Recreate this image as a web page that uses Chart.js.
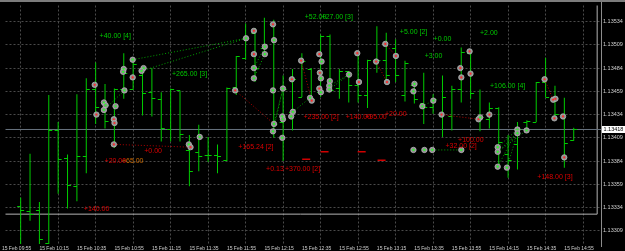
<!DOCTYPE html>
<html><head><meta charset="utf-8">
<script src="https://cdn.jsdelivr.net/npm/chart.js@4"></script>
<style>html,body{margin:0;padding:0;background:#000;overflow:hidden}canvas{display:block}</style>
</head><body>
<canvas id="c" width="625" height="251"></canvas>
<script>
// ---- time axis (5-minute bars, bar 0 = 15 Feb 10:05) ----
const xTickBars = [-2,2,6,10,14,18,22,26,30,34,38,42,46,50,54,58];
const xTickLabels = ['15 Feb 09:55','15 Feb 10:15','15 Feb 10:35','15 Feb 10:55','15 Feb 11:15','15 Feb 11:35','15 Feb 11:55','15 Feb 12:15','15 Feb 12:35','15 Feb 12:55','15 Feb 13:15','15 Feb 13:35','15 Feb 13:55','15 Feb 14:15','15 Feb 14:35','15 Feb 14:55'];
const yTickValues = [1.13309,1.13334,1.13359,1.13384,1.13409,1.13434,1.13459,1.13484,1.13509,1.13534];

// ---- OHLC bars ----
const openP  = [1.13336,1.13330,1.13332,1.13296,1.13417,1.13387,1.13357,1.13389,1.13461,1.13447,1.13428,1.13461,1.13462,1.13477,1.13458,1.13451,1.13419,1.13460,1.13396,1.13394,1.13391,1.13391,1.13385,1.13464,1.13495,1.13522,1.13506,1.13530,1.13426,1.13437,1.13453,1.13483,1.13458,1.13519,1.13463,1.13481,1.13466,1.13455,1.13493,1.13493,1.13506,1.13455,1.13466,1.13447,1.13442,1.13434,1.13433,1.13462,1.13500,1.13429,1.13429,1.13441,1.13392,1.13402,1.13426,1.13426,1.13469,1.13452,1.13435,1.13407];
const highP  = [1.13345,1.13392,1.13340,1.13455,1.13426,1.13391,1.13456,1.13473,1.13490,1.13467,1.13462,1.13500,1.13495,1.13484,1.13484,1.13458,1.13462,1.13460,1.13412,1.13423,1.13410,1.13402,1.13463,1.13497,1.13532,1.13527,1.13538,1.13536,1.13476,1.13483,1.13500,1.13484,1.13520,1.13520,1.13483,1.13481,1.13500,1.13493,1.13529,1.13522,1.13515,1.13492,1.13469,1.13479,1.13456,1.13476,1.13465,1.13506,1.13504,1.13461,1.13447,1.13442,1.13412,1.13426,1.13428,1.13469,1.13495,1.13465,1.13452,1.13420];
const lowP   = [1.13289,1.13320,1.13294,1.13295,1.13349,1.13333,1.13341,1.13371,1.13424,1.13419,1.13398,1.13451,1.13461,1.13433,1.13432,1.13405,1.13405,1.13405,1.13357,1.13373,1.13383,1.13371,1.13384,1.13455,1.13493,1.13469,1.13497,1.13409,1.13384,1.13417,1.13453,1.13447,1.13453,1.13458,1.13451,1.13447,1.13447,1.13441,1.13479,1.13469,1.13469,1.13448,1.13446,1.13424,1.13435,1.13410,1.13417,1.13447,1.13451,1.13416,1.13419,1.13377,1.13366,1.13375,1.13416,1.13426,1.13453,1.13432,1.13377,1.13406];
const closeP = [1.13331,1.13327,1.13300,1.13417,1.13386,1.13358,1.13389,1.13461,1.13442,1.13427,1.13461,1.13479,1.13488,1.13457,1.13452,1.13420,1.13461,1.13413,1.13373,1.13390,1.13391,1.13389,1.13463,1.13497,1.13516,1.13484,1.13500,1.13424,1.13462,1.13472,1.13492,1.13451,1.13519,1.13460,1.13481,1.13466,1.13455,1.13493,1.13493,1.13477,1.13477,1.13490,1.13451,1.13442,1.13451,1.13453,1.13462,1.13501,1.13457,1.13431,1.13441,1.13405,1.13385,1.13418,1.13427,1.13469,1.13453,1.13435,1.13404,1.13418];

const bidPrice = 1.13418;
const boxPrice = 1.13327;
const boxEndBar = 61.5;

// ---- trade markers ----
const markerBar = [7.90,8.08,8.88,9.06,8.88,10.12,9.94,10.01,9.94,10.99,10.93,11.07,11.95,11.95,13.11,12.90,17.94,18.12,19.10,22.88,24.04,24.88,24.88,24.88,24.88,26.05,26.05,26.92,27.03,26.92,27.03,26.92,27.91,27.98,27.91,27.98,28.93,29.04,28.86,29.92,30.87,31.05,31.86,32.10,31.92,32.03,31.86,32.03,32.98,32.92,32.92,35.03,35.91,36.09,37.92,38.90,39.08,40.03,42.01,41.90,42.85,44.02,44.90,46.90,47.01,47.89,47.99,49.02,48.84,50.00,41.90,43.07,43.91,47.01,50.89,50.89,50.89,51.87,52.99,52.99,53.97,55.89,56.81,57.05,56.94,57.86,57.99];
const markerPrice = [1.13466,1.13434,1.13447,1.13444,1.13439,1.13443,1.13429,1.13425,1.13402,1.13483,1.13480,1.13460,1.13493,1.13474,1.13484,1.13481,1.13402,1.13399,1.13410,1.13460,1.13516,1.13524,1.13499,1.13484,1.13473,1.13507,1.13499,1.13531,1.13514,1.13460,1.13424,1.13416,1.13409,1.13462,1.13432,1.13429,1.13472,1.13437,1.13432,1.13492,1.13452,1.13449,1.13499,1.13491,1.13479,1.13473,1.13462,1.13458,1.13470,1.13465,1.13461,1.13477,1.13500,1.13469,1.13491,1.13510,1.13469,1.13497,1.13467,1.13459,1.13443,1.13449,1.13434,1.13484,1.13474,1.13502,1.13478,1.13431,1.13429,1.13434,1.13396,1.13396,1.13396,1.13396,1.13399,1.13394,1.13378,1.13377,1.13418,1.13414,1.13417,1.13472,1.13450,1.13451,1.13430,1.13432,1.13388];
const markerSide = ['r','r','g','g','g','g','r','r','r','g','g','g','g','r','g','g','g','r','g','r','g','r','r','g','g','g','g','r','g','g','g','g','g','g','g','g','r','g','g','r','g','r','r','g','r','g','r','g','g','g','g','g','r','r','r','r','r','r','g','g','g','g','r','r','r','r','r','g','r','r','g','g','g','g','g','g','g','g','g','g','g','r','r','r','r','r','r'];
// links between markers (1-based marker numbers)
const greenLinks = [[13,21],[16,21],[5,12],[25,27],[24,26],[32,34],[31,34],[50,52],[51,52],[73,74],[75,79],[76,80],[77,79],[78,80],[76,81],[61,62],[38,41]];
const redLinks = [[9,18],[20,31],[40,42],[55,57],[56,58],[63,69],[82,83]];

// stop markers
const dashBar = [30.46,32.42,36.38,38.50];
const dashPrice = [1.13386,1.13394,1.13394,1.13385];

// profit labels
const labelText = ['+40.00 [4]','+265.00 [3]','+52.00','+27.00 [3]','+5.00 [2]','+0.00','+3.00','+2.00','+106.00 [4]','+140.00','+65.00','+20.00','+0.00','+165.24 [2]','+0.13','+370.00 [2]','+235.00 [2]','+140.00','+95.00','+20.00','+100.00','+32.00 [2]','+148.00 [3]'];
const labelBar = [8.42,16.14,30.3,32.1,40.45,44.05,43.1,49.0,50.07,6.74,10.8,8.95,13.18,23.22,26.18,28.19,30.17,34.67,36.75,38.87,46.66,45.32,55.12];
const labelPrice = [1.13518,1.13478,1.13539,1.13539,1.13523,1.13515,1.13497,1.13522,1.13465,1.13333,1.13384,1.13384,1.13395,1.13399,1.13375,1.13375,1.13431,1.13431,1.13431,1.13435,1.13407,1.13400,1.13367];
const labelColor = ['g','g','g','g','g','g','g','g','g','r','o','r','r','r','r','r','r','r','r','r','r','r','r'];

const COL = {g:'#00c800', r:'#dc0000', o:'#cc6a00'};
const BAR = '#00cc00';
const FONT = '"Liberation Sans", Arial, sans-serif';

function linkData(links){
  const d = [];
  links.forEach(([a,b])=>{
    d.push({x:markerBar[a-1], y:markerPrice[a-1]});
    d.push({x:markerBar[b-1], y:markerPrice[b-1]});
    d.push({x:markerBar[b-1], y:null});
  });
  return d;
}

const bg = {
  id:'bg',
  beforeDraw(chart){
    const c = chart.ctx;
    c.save(); c.fillStyle = '#000'; c.fillRect(0,0,chart.width,chart.height);
    c.fillStyle = '#7c7c7c'; c.fillRect(0,0,chart.width,2); c.restore();
  },
  afterDraw(chart){
    const c = chart.ctx, a = chart.chartArea, ys = chart.scales.y;
    c.save();
    c.strokeStyle = '#8c8c8c'; c.lineWidth = 1;
    c.beginPath(); c.moveTo(Math.round(a.right)+0.5, 2); c.lineTo(Math.round(a.right)+0.5, 247); c.stroke();
    const y = ys.getPixelForValue(bidPrice);
    c.fillStyle = '#ffffff'; c.fillRect(a.right+1, y-3.5, chart.width-a.right-1, 7);
    c.fillStyle = '#000'; c.font = '5.5px ' + FONT; c.textBaseline = 'middle'; c.textAlign = 'left';
    c.fillText(bidPrice.toFixed(5), a.right+2.5, y+0.3);
    c.restore();
  }
};

const ohlcTicks = {
  id:'ohlcTicks',
  afterDatasetDraw(chart, args){
    if (args.index !== 0) return;
    const xs = chart.scales.x, ys = chart.scales.y, c = chart.ctx, a = chart.chartArea;
    c.save();
    c.beginPath(); c.rect(a.left, a.top, a.right-a.left, a.bottom-a.top); c.clip();
    c.strokeStyle = BAR; c.lineWidth = 1;
    for (let i = 0; i < openP.length; i++){
      const x = xs.getPixelForValue(i);
      const yo = Math.round(ys.getPixelForValue(openP[i])) + 0.5;
      const yc = Math.round(ys.getPixelForValue(closeP[i])) + 0.5;
      c.beginPath();
      c.moveTo(x-3.5, yo); c.lineTo(x, yo);
      c.moveTo(x, yc); c.lineTo(x+3.5, yc);
      c.stroke();
    }
    c.restore();
  }
};

const tradeLabels = {
  id:'tradeLabels',
  afterDatasetsDraw(chart){
    const xs = chart.scales.x, ys = chart.scales.y, c = chart.ctx;
    c.save();
    c.font = '7px ' + FONT; c.textBaseline = 'middle'; c.textAlign = 'left';
    labelText.forEach((t,i)=>{
      c.fillStyle = COL[labelColor[i]];
      c.fillText(t, xs.getPixelForValue(labelBar[i]), ys.getPixelForValue(labelPrice[i]));
    });
    c.restore();
  }
};

new Chart(document.getElementById('c'), {
  type: 'bar',
  data: {
    datasets: [
      { type:'bar', data: openP.map((_,i)=>({x:i, y:[lowP[i], highP[i]]})), backgroundColor: BAR, borderWidth:0, barThickness:1, inflateAmount:0, order:5 },
      { type:'line', data: [{x:-3,y:bidPrice},{x:70,y:bidPrice}], borderColor:'#67727e', borderWidth:1, pointRadius:0, order:7 },
      { type:'line', data: [{x:-3,y:boxPrice},{x:boxEndBar,y:boxPrice},{x:boxEndBar,y:1.1360}], borderColor:'#b4b4b4', borderWidth:1, pointRadius:0, order:7 },
      { type:'line', data: linkData(greenLinks), borderColor:'#00a000', borderWidth:1, borderDash:[1,2], pointRadius:0, spanGaps:false, order:4 },
      { type:'line', data: linkData(redLinks), borderColor:'#b00000', borderWidth:1, borderDash:[1,2], pointRadius:0, spanGaps:false, order:4 },
      { type:'line', data: dashBar.map((x,i)=>({x, y:dashPrice[i]})), showLine:false, pointStyle:'line', pointRadius:4, pointBorderColor:'#d00000', pointBorderWidth:1.5, order:4 },
      { type:'line', data: markerBar.map((x,i)=>({x, y:markerPrice[i]})), showLine:false, pointStyle:'circle', pointRadius:2.7, pointBackgroundColor:'#8e8e8e', pointBorderColor:'#b8b8b8', pointBorderWidth:0.8, order:2 },
      { type:'line', data: markerBar.map((x,i)=>({x, y:markerPrice[i]})), showLine:false, pointStyle:'circle', pointRadius:1.1, pointBackgroundColor: markerSide.map(s=> s==='r' ? '#ff2a2a' : '#2aff2a'), pointBorderWidth:0, order:1 }
    ]
  },
  options: {
    responsive:false, animation:false, devicePixelRatio:1,
    layout:{ padding:{ top:2, left:0, right:0, bottom:0 } },
    plugins:{ legend:{display:false}, tooltip:{enabled:false} },
    scales: {
      x: {
        type:'linear', min:-1.617, max:61.91, offset:false,
        grid:{ color:'#4a4a4a', offset:true, drawTicks:false },
        border:{ display:false, dash:[2,2] },
        ticks:{ color:'#cfcfcf', font:{ size:5, family:FONT }, align:'start', padding:2, autoSkip:false, maxRotation:0, minRotation:0,
                callback:(v,i)=> xTickLabels[i] },
        afterBuildTicks:(s)=>{ s.ticks = xTickBars.map(v=>({value:v})); },
        afterFit:(s)=>{ s.height = 7; s.paddingLeft = 0; s.paddingRight = 0; s.paddingTop = 0; s.paddingBottom = 0; }
      },
      y: {
        type:'linear', position:'right', min:1.1329492, max:1.1355127,
        grid:{ color:'#4a4a4a', drawTicks:false },
        border:{ display:false, dash:[2,2] },
        ticks:{ color:'#cfcfcf', font:{ size:5.5, family:FONT }, padding:2, callback:(v)=> Number(v).toFixed(5) },
        afterBuildTicks:(s)=>{ s.ticks = yTickValues.map(v=>({value:v})); },
        afterFit:(s)=>{ s.width = 24; s.paddingLeft = 0; s.paddingRight = 0; s.paddingTop = 0; s.paddingBottom = 0; }
      }
    }
  },
  plugins:[bg, ohlcTicks, tradeLabels]
});
</script>
</body></html>
